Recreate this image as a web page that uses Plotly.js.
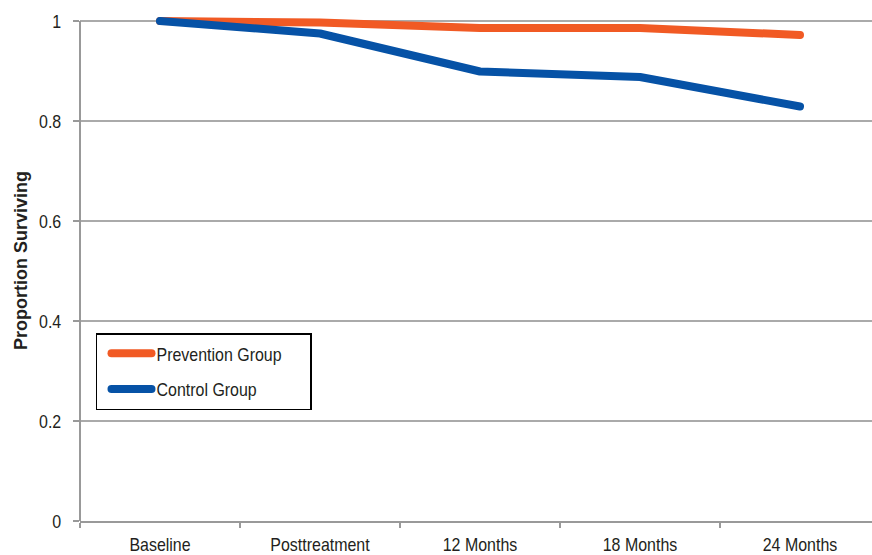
<!DOCTYPE html>
<html>
<head>
<meta charset="utf-8">
<script src="https://cdn.plot.ly/plotly-3.0.1.min.js"></script>
<style>
html,body{margin:0;padding:0;background:#fff;}
#chart{width:872px;height:555px;}
#chart .scatterlayer .js-line, #chart .legendlines path { stroke-linecap: round !important; stroke-linejoin: round !important; }
</style>
</head>
<body>
<div id="chart"></div>
<script>
const categories = ["Baseline", "Posttreatment", "12 Months", "18 Months", "24 Months"];
const preventionValues = [1.0, 0.997, 0.986, 0.986, 0.972];
const controlValues = [1.0, 0.975, 0.899, 0.888, 0.829];
const yTickValues = [0, 0.2, 0.4, 0.6, 0.8, 1];
const yTickLabels = ["0", "0.2", "0.4", "0.6", "0.8", "1"];

const baseFont = "Liberation Sans, Arial, sans-serif";
const textColor = "#231f20";

const traces = [
  {
    x: categories, y: preventionValues, name: "Prevention Group",
    type: "scatter", mode: "lines", legendgroup: "p",
    line: {color: "#f15a24", width: 8, shape: "linear"}
  },
  {
    x: categories, y: controlValues, name: "Control Group",
    type: "scatter", mode: "lines", legendgroup: "c",
    line: {color: "#0652a6", width: 8, shape: "linear"}
  }
];

const layout = {
  width: 872, height: 555,
  margin: {l: 80, r: 0, t: 0, b: 34},
  paper_bgcolor: "#fff", plot_bgcolor: "#fff",
  showlegend: true,
  legend: {
    x: 0.0202, y: 0.3608, xanchor: "left", yanchor: "top",
    bgcolor: "#fff", bordercolor: "#000", borderwidth: 1.5,
    font: {family: baseFont, size: 19, color: textColor},
    tracegroupgap: 8, traceorder: "grouped",
    indentation: 9, itemwidth: 40
  },
  xaxis: {
    type: "category", categoryorder: "array", categoryarray: categories,
    range: [-0.5, 4.45],
    tickson: "boundaries", ticks: "outside", ticklen: 5, tickwidth: 1.5, tickcolor: "#999",
    showgrid: false, zeroline: false,
    showline: true, linecolor: "#999", linewidth: 2,
    tickfont: {family: baseFont, size: 19, color: textColor},
    ticklabelstandoff: 5
  },
  yaxis: {
    range: [0, 1.042], tickmode: "array", tickvals: yTickValues, ticktext: yTickLabels,
    ticks: "outside", ticklen: 6, tickwidth: 1.5, tickcolor: "#999",
    showgrid: true, gridcolor: "#aaa", gridwidth: 1.3,
    zeroline: false, showline: false,
    tickfont: {family: baseFont, size: 19, color: textColor},
    ticklabelstandoff: 8,
    title: {text: "Proportion Surviving", font: {family: baseFont, size: 18, color: textColor, weight: "bold"}, standoff: 2}
  },
  shapes: [
    {type: "line", xref: "paper", yref: "y", x0: 0, x1: 0, y0: 0, y1: 1,
     line: {color: "#999", width: 2}, layer: "above"}
  ]
};

function condense(gd) {
  // emulate a condensed face (Helvetica Condensed style) by narrowing glyphs
  const sel = gd.querySelectorAll(".xtick text, .ytick text, .legendtext");
  sel.forEach(function (t) {
    const w = t.getComputedTextLength();
    if (w > 0) {
      t.setAttribute("textLength", (w * 0.84).toFixed(2));
      t.setAttribute("lengthAdjust", "spacingAndGlyphs");
    }
  });
}

Plotly.newPlot("chart", traces, layout, {displayModeBar: false, staticPlot: true}).then(function (gd) {
  condense(gd);
});
</script>
</body>
</html>
